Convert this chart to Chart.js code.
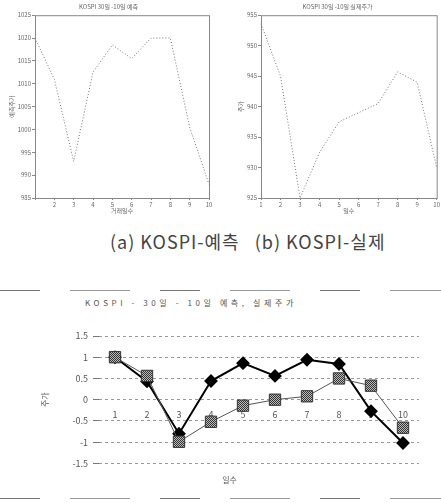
<!DOCTYPE html>
<html>
<head>
<meta charset="utf-8">
<script src="https://cdn.jsdelivr.net/npm/chart.js@4/dist/chart.umd.min.js"></script>
<style>
  body { margin: 0; background: #fff; width: 441px; height: 503px; position: relative; overflow: hidden; font-family: "Noto Sans CJK KR", sans-serif; }
  .cv { position: absolute; }
  #caption { position: absolute; left: 110px; top: 231px; font-size: 18px; line-height: 20px; color: #444; letter-spacing: 1px; white-space: pre; }
  #bottomTitle { position: absolute; left: 85px; top: 297px; font-size: 8px; line-height: 12px; color: #555; letter-spacing: 3.6px; white-space: pre; }
  .rule { position: absolute; left: 0; width: 441px; height: 1px;
          background: repeating-linear-gradient(90deg, #777 0 40px, transparent 40px 70px, #999 70px 130px, transparent 130px 160px); }
</style>
</head>
<body>
<div class="cv" style="left:0;top:0;width:220px;height:214px"><canvas id="chartPred"></canvas></div>
<div class="cv" style="left:220px;top:0;width:221px;height:214px"><canvas id="chartActual"></canvas></div>
<div id="caption">(a) KOSPI-예측   (b) KOSPI-실제</div>
<div class="rule" style="top:290px"></div>
<div id="bottomTitle">KOSPI - 30일 - 10일 예측, 실제주가</div>
<div class="cv" style="left:0;top:270px;width:441px;height:233px"><canvas id="chartBoth"></canvas></div>
<div class="rule" style="top:498px"></div>
<script>
// ---------------- DATA ----------------
const days = ['1', '2', '3', '4', '5', '6', '7', '8', '9', '10'];
const predicted = [1020, 1011, 993, 1012.5, 1018.5, 1015.5, 1020, 1020, 1000.5, 988];
const actual = [953.6, 945, 925, 932.5, 937.5, 939, 940.5, 945.7, 944, 930];
const predictedNorm = [1.0, 0.43, -0.80, 0.44, 0.86, 0.56, 0.94, 0.84, -0.27, -1.02];
const actualNorm = [1.0, 0.56, -0.99, -0.52, -0.14, 0.0, 0.08, 0.50, 0.33, -0.66];

const FONT = '"Noto Sans CJK KR", sans-serif';
Chart.defaults.font.family = FONT;
Chart.defaults.color = '#666';
Chart.defaults.animation = false;
Chart.defaults.maintainAspectRatio = false;
Chart.defaults.responsive = true;

// box around the plot area of the small charts
const frame = {
  id: 'frame',
  afterDraw(chart) {
    const { ctx, chartArea: a } = chart;
    ctx.save();
    ctx.strokeStyle = '#888';
    ctx.lineWidth = 1;
    ctx.strokeRect(a.left + 0.5, a.top + 0.5, a.right - a.left, a.bottom - a.top);
    ctx.restore();
  },
};

function smallChart(id, title, data, yMin, yMax, yTitle, xTitle, yWidth, padLeft, padRight, hideFirst) {
  return new Chart(document.getElementById(id), {
    type: 'line',
    data: {
      labels: days,
      datasets: [{
        data: data,
        borderColor: '#777',
        borderWidth: 1,
        borderDash: [1, 2],
        pointRadius: 0,
        tension: 0,
      }],
    },
    options: {
      layout: { padding: { top: 1, left: padLeft, right: padRight, bottom: 0 } },
      plugins: {
        legend: { display: false },
        tooltip: { enabled: false },
        title: { display: true, text: title, font: { size: 6, weight: 'normal' }, color: '#666', padding: { top: 2, bottom: 5 } },
      },
      scales: {
        x: {
          offset: false,
          grid: { drawOnChartArea: false, tickLength: 2, color: '#888' },
          border: { display: false },
          ticks: { font: { size: 6 }, padding: 1, maxRotation: 0, autoSkip: false,
                   callback: (v, i) => (hideFirst && i === 0 ? '' : days[i]) },
          title: { display: true, text: xTitle, font: { size: 6 }, padding: 0 },
          afterFit: (s) => { s.height = 16; },
        },
        y: {
          min: yMin, max: yMax,
          grid: { drawOnChartArea: false, tickLength: 3, color: '#888' },
          border: { display: false },
          ticks: { stepSize: 5, font: { size: 6 }, padding: 1, callback: (v) => String(v) },
          title: { display: true, text: yTitle, font: { size: 6 }, padding: 0 },
          afterFit: (s) => { s.width = yWidth; },
        },
      },
    },
    plugins: [frame],
  });
}

smallChart('chartPred', 'KOSPI 30일 -10일 예측', predicted, 985, 1025, '예측주가', '거래일수', 27, 8, 11, true);
smallChart('chartActual', 'KOSPI 30일 -10일 실제주가', actual, 925, 955, '주가', '일수', 24, 17, 3, false);

// checkered fill for the square markers
const pc = document.createElement('canvas');
pc.width = 2; pc.height = 2;
const pctx = pc.getContext('2d');
pctx.fillStyle = '#bbb'; pctx.fillRect(0, 0, 2, 2);
pctx.fillStyle = '#333'; pctx.fillRect(0, 0, 1, 1); pctx.fillRect(1, 1, 1, 1);
const checker = pctx.createPattern(pc, 'repeat');

new Chart(document.getElementById('chartBoth'), {
  type: 'line',
  data: {
    labels: days,
    datasets: [
      {
        label: '실제',
        data: actualNorm,
        borderColor: '#555',
        borderWidth: 1,
        pointStyle: 'rect',
        pointRadius: 8,
        pointBackgroundColor: checker,
        pointBorderColor: '#333',
        pointBorderWidth: 1,
        tension: 0,
      },
      {
        label: '예측',
        data: predictedNorm,
        borderColor: '#000',
        borderWidth: 2,
        pointStyle: 'rectRot',
        pointRadius: 5.5,
        pointBackgroundColor: '#000',
        pointBorderColor: '#000',
        tension: 0,
      },
    ],
  },
  options: {
    layout: { padding: { top: 66, left: 40, right: 22, bottom: 14 } },
    plugins: {
      legend: { display: false },
      tooltip: { enabled: false },
      subtitle: { display: true, position: 'bottom', text: '일수', font: { size: 8 }, color: '#555', padding: { top: 12, bottom: 4 } },
    },
    scales: {
      x: {
        position: { y: 0 },
        offset: true,
        grid: { display: false, drawTicks: false },
        border: { display: false },
        ticks: { font: { size: 9 }, color: '#555', padding: 9, maxRotation: 0 },
      },
      y: {
        min: -1.5, max: 1.5,
        grid: { color: '#999', tickLength: 6, tickColor: '#777', drawTicks: true },
        border: { display: false, dash: [3, 3] },
        ticks: { stepSize: 0.5, font: { size: 9 }, color: '#555', padding: 5, callback: (v) => String(v) },
        title: { display: true, text: '주가', font: { size: 8 }, color: '#555', padding: 0 },
        afterFit: (s) => { s.width = 59; },
      },
    },
  },
});
</script>
</body>
</html>
